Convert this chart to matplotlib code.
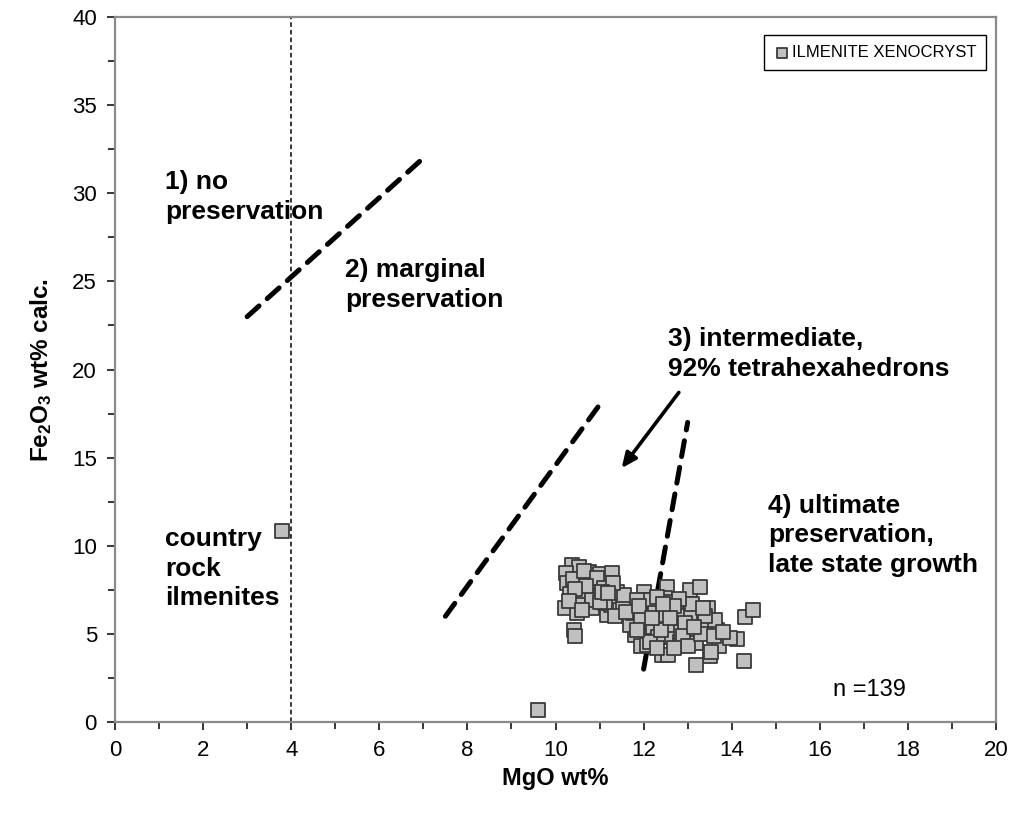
import matplotlib
matplotlib.use("Agg")
import matplotlib.pyplot as plt
from matplotlib.ticker import MultipleLocator

plt.rcParams["font.family"] = ["Liberation Sans", "DejaVu Sans"]
plt.rcParams["mathtext.fontset"] = "custom"
plt.rcParams["mathtext.rm"] = "Liberation Sans"
plt.rcParams["mathtext.bf"] = "Liberation Sans:bold"

# Ilmenite xenocryst analyses (MgO wt%, Fe2O3 wt% calc.)
mgo = [
    3.80, 9.60,
    10.37, 10.53, 10.23, 10.75, 11.01, 11.28, 10.25, 10.52, 11.21, 10.85,
    10.33, 10.64, 10.90, 11.43, 11.68, 12.00, 12.03, 12.52, 12.48, 10.22,
    10.50, 10.48, 10.82, 11.16, 11.27, 11.46, 11.73, 11.92, 12.07, 12.35,
    12.37, 12.67, 12.85, 10.41, 10.44, 11.80, 11.94, 12.18, 12.41, 12.60,
    11.69, 13.05, 13.28, 14.30, 14.48, 14.28, 14.11, 13.72, 13.46, 13.66,
    13.51, 13.20, 13.20, 13.17, 12.83, 12.07, 13.39, 13.54, 13.05, 13.62,
    13.96, 12.41, 12.56, 12.22, 11.39, 11.54, 11.77, 11.12, 10.82, 12.56,
    12.14, 12.69, 12.33, 12.14, 12.86, 10.40, 10.65, 10.95, 11.10, 10.70,
    10.45, 11.55, 11.85, 10.30, 11.00, 11.35, 11.60, 11.95, 12.25, 12.50,
    12.75, 12.95, 12.40, 12.90, 13.00, 12.70, 12.30, 13.30, 13.40, 13.10,
    12.80, 12.30, 11.90, 12.70, 13.35, 13.60, 13.80, 12.20, 11.30, 10.60,
    11.05, 11.20, 12.60, 13.15, 11.85, 12.45,
]
fe2o3 = [
    10.84, 0.68,
    8.93, 8.81, 8.45, 8.50, 8.40, 8.47, 7.88, 8.10, 7.88, 7.96,
    7.28, 7.40, 7.11, 7.11, 6.75, 7.39, 6.92, 7.68, 7.02, 6.49,
    6.62, 6.17, 6.45, 6.10, 6.64, 6.35, 5.88, 6.35, 5.79, 6.42,
    5.77, 5.45, 6.50, 5.22, 4.86, 4.94, 4.30, 5.03, 4.84, 4.84,
    5.50, 7.49, 7.66, 5.97, 6.35, 3.47, 4.70, 4.33, 6.45, 5.22,
    3.72, 3.23, 4.46, 5.79, 4.56, 4.37, 5.32, 3.99, 6.17, 5.79,
    4.75, 3.80, 3.80, 5.41, 7.39, 6.54, 6.17, 6.73, 6.92, 6.83,
    6.92, 5.50, 4.84, 4.56, 5.12, 8.10, 8.55, 8.20, 7.60, 7.70,
    7.55, 7.20, 6.95, 6.85, 6.80, 6.00, 6.25, 5.95, 6.20, 6.10,
    6.00, 5.60, 5.20, 4.90, 4.30, 4.20, 4.20, 5.00, 6.00, 6.70,
    7.00, 7.10, 6.60, 6.60, 6.45, 4.90, 5.10, 5.90, 7.90, 6.35,
    7.39, 7.30, 5.90, 5.40, 5.20, 6.70,
]

# Boundary lines between preservation fields (MgO, Fe2O3 end points)
bound1_x, bound1_y = [3.0, 7.0], [23.0, 32.0]
bound2_x, bound2_y = [7.5, 11.0], [6.0, 18.0]
bound3_x, bound3_y = [12.0, 13.0], [3.0, 17.0]
arrow_from, arrow_to = (12.8, 18.7), (11.5, 14.4)
country_rock_mgo = 4.0

fig = plt.figure(figsize=(10.15, 8.19), dpi=100)
ax = fig.add_axes([0.1133, 0.1184, 0.8680, 0.8608])

ax.axvline(country_rock_mgo, color="black", lw=1.1, ls=(0, (3, 2)), zorder=1)

dash_kw = dict(color="black", lw=3.6, dashes=(3.2, 2.2),
               dash_capstyle="round", solid_capstyle="round", zorder=2)
ax.plot(bound1_x, bound1_y, **dash_kw)
ax.plot(bound2_x, bound2_y, **dash_kw)
ax.plot(bound3_x, bound3_y, **dash_kw)

ax.annotate("", xy=arrow_to, xytext=arrow_from,
            arrowprops=dict(arrowstyle="-|>,head_length=0.9,head_width=0.4",
                            color="black", lw=2.6, shrinkA=0, shrinkB=0),
            zorder=3)

ax.scatter(mgo, fe2o3, marker="s", s=110, facecolor="#c0c0c0",
           edgecolor="#3a3a3a", linewidths=1.3, zorder=4,
           label="ILMENITE XENOCRYST")

ax.set_xlim(0, 20)
ax.set_ylim(0, 40)
ax.xaxis.set_major_locator(MultipleLocator(2))
ax.xaxis.set_minor_locator(MultipleLocator(1))
ax.yaxis.set_major_locator(MultipleLocator(5))
ax.yaxis.set_minor_locator(MultipleLocator(2.5))
ax.tick_params(which="both", direction="out", color="black", width=1.1)
ax.tick_params(which="major", length=6, labelsize=16, pad=7)
ax.tick_params(which="minor", length=5)
for sp in ax.spines.values():
    sp.set_color("#8a8a8a")
    sp.set_linewidth(1.6)

ax.set_xlabel("MgO wt%", fontsize=17, fontweight="bold", labelpad=4)
ax.set_ylabel(r"$\mathbf{Fe_2O_3}$ wt% calc.", fontsize=17.5,
              fontweight="bold", labelpad=13)

txt_kw = dict(fontsize=19, fontweight="bold", ha="left", va="center",
              linespacing=1.3)
ax.text(1.14, 29.8, "1) no\npreservation", **txt_kw)
ax.text(5.22, 24.8, "2) marginal\npreservation", **txt_kw)
ax.text(12.55, 20.9, "3) intermediate,\n92% tetrahexahedrons", **txt_kw)
ax.text(14.82, 10.6, "4) ultimate\npreservation,\nlate state growth", **txt_kw)
ax.text(1.14, 8.7, "country\nrock\nilmenites", **txt_kw)
ax.text(16.3, 1.8, "n =139", fontsize=17, ha="left", va="center")

leg = ax.legend(loc="upper right", bbox_to_anchor=(0.9887, 0.9745),
                borderaxespad=0, fancybox=False, edgecolor="black",
                framealpha=1, fontsize=12, handletextpad=0.05,
                handlelength=1.0, borderpad=0.6, markerscale=0.7)
leg.get_frame().set_linewidth(1.0)

fig.savefig("out.png", dpi=100)
